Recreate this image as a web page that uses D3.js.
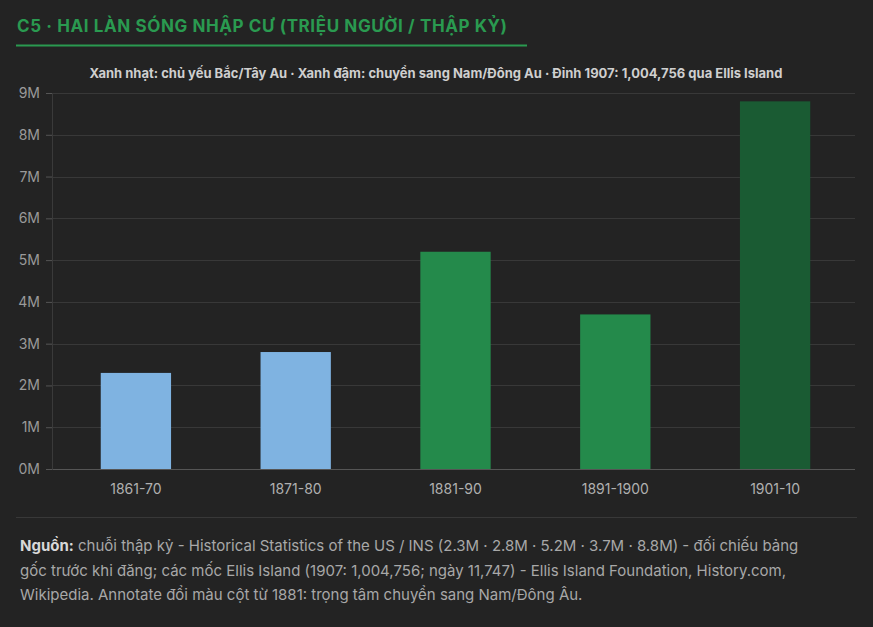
<!DOCTYPE html>
<html><head><meta charset="utf-8">
<script src="https://cdn.jsdelivr.net/npm/d3@7"></script>
<style>body{margin:0;background:#232323;font-family:Inter,sans-serif}</style>
</head><body><svg id="c" width="873" height="627"></svg>
<script>
const categories=["1861-70","1871-80","1881-90","1891-1900","1901-10"];
const values=[2.3,2.8,5.2,3.7,8.8];
const colors=["#7fb3e1","#7fb3e1","#248a4b","#248a4b","#1a5b33"];
const yTicks=[0,1,2,3,4,5,6,7,8,9];
const svg=d3.select("#c");
svg.append("rect").attr("width",873).attr("height",627).attr("fill","#232323");
svg.append("text").attr("x",17).attr("y",32).attr("fill","#2a9a50").attr("font-size",17).attr("font-weight",700).attr("letter-spacing",0.6).text("C5 · HAI LÀN SÓNG NHẬP CƯ (TRIỆU NGƯỜI / THẬP KỶ)");
svg.append("line").attr("x1",16).attr("x2",527).attr("y1",45.5).attr("y2",45.5).attr("stroke","#2a9a50").attr("stroke-width",2);
svg.append("text").attr("x",436).attr("y",78).attr("text-anchor","middle").attr("fill","#cfcfcf").attr("font-size",13).attr("font-weight",700).text("Xanh nhạt: chủ yếu Bắc/Tây Au · Xanh đậm: chuyển sang Nam/Đông Au · Đỉnh 1907: 1,004,756 qua Ellis Island");
const x=d3.scaleBand().domain(categories).range([56,855]).paddingInner(0.56).paddingOuter(0.28);
const y=d3.scaleLinear().domain([0,9]).range([469,93]);
const g=svg.append("g");
g.selectAll(".gr").data(yTicks).join("line").attr("x1",52).attr("x2",855).attr("y1",d=>Math.round(y(d))+0.5).attr("y2",d=>Math.round(y(d))+0.5).attr("stroke",d=>d===0?"#555":"#383838");
const ya=svg.append("g").attr("transform","translate(52,0)").call(d3.axisLeft(y).tickValues(yTicks).tickFormat(d=>d+"M").tickSize(6));
ya.select(".domain").attr("stroke","#3a3a3a");
ya.selectAll("line").attr("stroke","#555");
ya.selectAll("text").attr("fill","#9a9a9a").attr("font-size",14).attr("font-family","Inter,sans-serif").attr("x",-12);
g.selectAll(".b").data(values).join("rect").attr("x",(d,i)=>x(categories[i])).attr("width",x.bandwidth()).attr("y",d=>y(d)).attr("height",d=>y(0)-y(d)).attr("fill",(d,i)=>colors[i]);
const xa=svg.append("g").attr("transform","translate(0,469)").call(d3.axisBottom(x).tickSize(0));
xa.select(".domain").remove();
xa.selectAll("text").attr("fill","#b0b0b0").attr("font-size",14).attr("font-family","Inter,sans-serif").attr("dy","1.55em");
svg.append("line").attr("x1",16).attr("x2",857).attr("y1",517.5).attr("y2",517.5).attr("stroke","#383838");
const src=["<tspan font-weight='700' fill='#d8d8d8'>Nguồn:</tspan> chuỗi thập kỷ - Historical Statistics of the US / INS (2.3M · 2.8M · 5.2M · 3.7M · 8.8M) - đối chiếu bảng",
"gốc trước khi đăng; các mốc Ellis Island (1907: 1,004,756; ngày 11,747) - Ellis Island Foundation, History.com,",
"Wikipedia. Annotate đổi màu cột từ 1881: trọng tâm chuyển sang Nam/Đông Âu."];
src.forEach((s,i)=>svg.append("text").attr("x",20).attr("y",551+i*24.5).attr("fill","#a8a8a8").attr("font-size",15).html(s));
</script></body></html>
